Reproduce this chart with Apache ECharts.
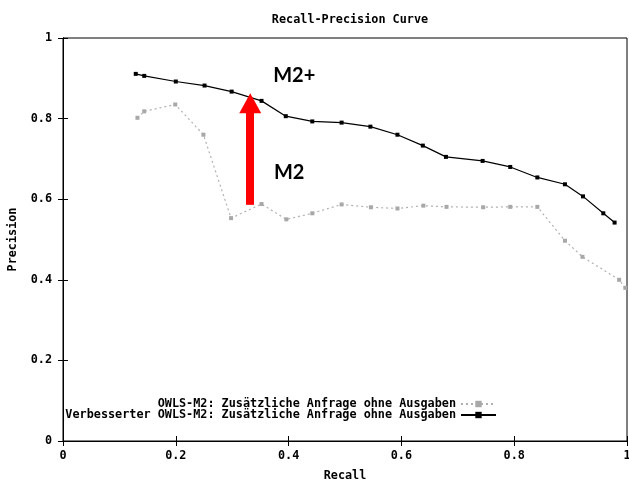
<!DOCTYPE html>
<html>
<head>
<meta charset="utf-8">
<script src="https://cdn.jsdelivr.net/npm/echarts@6/dist/echarts.min.js"></script>
<style>html,body{margin:0;padding:0;background:#fff}#c{width:629px;height:482px}</style>
</head>
<body>
<div id="c"></div>
<script>
var titleText = 'Recall-Precision Curve';
var xName = 'Recall';
var yName = 'Precision';
var nameGray = 'OWLS-M2: Zusätzliche Anfrage ohne Ausgaben';
var nameBlack = 'Verbesserter OWLS-M2: Zusätzliche Anfrage ohne Ausgaben';
var tickValues = [0, 0.2, 0.4, 0.6, 0.8, 1];
var tickLabels = ['0', '0.2', '0.4', '0.6', '0.8', '1'];

var grayRecall = [0.132, 0.144, 0.199, 0.249, 0.298, 0.352, 0.396, 0.442, 0.494, 0.546, 0.593, 0.639, 0.680, 0.745, 0.793, 0.841, 0.890, 0.921, 0.986, 0.997];
var grayPrecision = [0.802, 0.818, 0.835, 0.760, 0.553, 0.588, 0.550, 0.565, 0.587, 0.580, 0.577, 0.584, 0.581, 0.580, 0.581, 0.581, 0.497, 0.457, 0.400, 0.380];

var blackRecall = [0.129, 0.144, 0.200, 0.251, 0.299, 0.352, 0.395, 0.442, 0.494, 0.545, 0.593, 0.638, 0.679, 0.744, 0.793, 0.841, 0.890, 0.922, 0.958, 0.978];
var blackPrecision = [0.911, 0.906, 0.892, 0.882, 0.867, 0.844, 0.806, 0.793, 0.790, 0.780, 0.760, 0.733, 0.705, 0.695, 0.680, 0.654, 0.637, 0.607, 0.565, 0.542];

var arrowX = 0.332;
var arrowFrom = 0.586;
var arrowHead = 0.838;
var labelTop = {text: 'M2+', x: 0.410, y: 0.908};
var labelBottom = {text: 'M2', x: 0.401, y: 0.667};

function pairs(xs, ys) { return xs.map(function (x, i) { return [x, ys[i]]; }); }

var mono = 'DejaVu Sans Mono';
var chart = echarts.init(document.getElementById('c'), null, {renderer: 'canvas'});
var fmt = function (v) { var i = tickValues.indexOf(Math.round(v * 10) / 10); return i >= 0 ? tickLabels[i] : ''; };

chart.setOption({
  animation: false,
  backgroundColor: '#fff',
  title: {
    text: titleText, left: 345, top: 9, textAlign: 'center',
    textStyle: {fontFamily: mono, fontWeight: 'bold', fontSize: 11.8, color: '#000'}
  },
  grid: {left: 63, right: 2, top: 38, bottom: 41, containLabel: false, outerBoundsMode: 'none',
         show: true, borderColor: '#000', borderWidth: 1, backgroundColor: 'transparent'},
  legend: [
    {data: [nameGray], right: 132, top: 398, align: 'right', itemWidth: 35, itemHeight: 8, padding: 0,
     textStyle: {fontFamily: mono, fontWeight: 'bold', fontSize: 11.8, color: '#000'}},
    {data: [nameBlack], right: 132, top: 409, align: 'right', itemWidth: 35, itemHeight: 8, padding: 0,
     textStyle: {fontFamily: mono, fontWeight: 'bold', fontSize: 11.8, color: '#000'}}
  ],
  xAxis: [
    {type: 'value', min: 0, max: 1, interval: 0.2, position: 'bottom',
     name: xName, nameLocation: 'middle', nameGap: 29,
     nameTextStyle: {fontFamily: mono, fontWeight: 'bold', fontSize: 11.8, color: '#000'},
     axisLine: {show: true, lineStyle: {color: '#000'}},
     axisTick: {show: true, inside: true, length: 5, lineStyle: {color: '#000'}},
     axisLabel: {formatter: fmt, margin: 9, fontFamily: mono, fontWeight: 'bold', fontSize: 11.8, color: '#000'},
     splitLine: {show: false}},
    {type: 'value', min: 0, max: 1, interval: 0.2, position: 'top',
     axisLine: {show: true, lineStyle: {color: '#000'}},
     axisTick: {show: true, inside: true, length: 5, lineStyle: {color: '#000'}},
     axisLabel: {show: false}, splitLine: {show: false}}
  ],
  yAxis: [
    {type: 'value', min: 0, max: 1, interval: 0.2, position: 'left',
     name: yName, nameLocation: 'middle', nameGap: 44,
     nameTextStyle: {fontFamily: mono, fontWeight: 'bold', fontSize: 11.8, color: '#000'},
     axisLine: {show: true, lineStyle: {color: '#000'}},
     axisTick: {show: true, inside: true, length: 5, lineStyle: {color: '#000'}},
     axisLabel: {formatter: fmt, margin: 11, fontFamily: mono, fontWeight: 'bold', fontSize: 11.8, color: '#000'},
     splitLine: {show: false}},
    {type: 'value', min: 0, max: 1, interval: 0.2, position: 'right',
     axisLine: {show: true, lineStyle: {color: '#000'}},
     axisTick: {show: true, inside: true, length: 5, lineStyle: {color: '#000'}},
     axisLabel: {show: false}, splitLine: {show: false}}
  ],
  series: [
    {name: nameGray, type: 'line', data: pairs(grayRecall, grayPrecision),
     symbol: 'rect', symbolSize: 4, showSymbol: true,
     itemStyle: {color: '#a8a8a8'},
     lineStyle: {color: '#b0b0b0', width: 1.2, type: [2, 3]}},
    {name: nameBlack, type: 'line', data: pairs(blackRecall, blackPrecision),
     symbol: 'rect', symbolSize: 4, showSymbol: true,
     itemStyle: {color: '#000'},
     lineStyle: {color: '#000', width: 1.2},
     markLine: {
       silent: true, animation: false,
       label: {show: false},
       lineStyle: {color: '#ff0000', width: 8, type: 'solid', opacity: 1},
       symbol: ['none', 'triangle'], symbolSize: [22, 20],
       data: [[{coord: [arrowX, arrowFrom]}, {coord: [arrowX, arrowHead]}]]
     },
     markPoint: {
       silent: true, symbol: 'circle', symbolSize: 1, itemStyle: {color: 'transparent'},
       label: {show: true, position: 'inside', fontFamily: 'Lato', fontWeight: 'bold', fontSize: 20, color: '#000',
               formatter: function (p) { return p.name; }},
       data: [
         {name: labelTop.text, coord: [labelTop.x, labelTop.y]},
         {name: labelBottom.text, coord: [labelBottom.x, labelBottom.y]}
       ]
     }}
  ]
});
</script>
</body>
</html>
